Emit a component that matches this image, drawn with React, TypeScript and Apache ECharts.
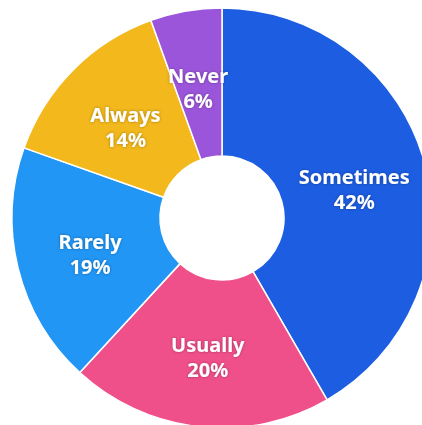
import React, { useEffect, useRef } from "react";
import * as echarts from "echarts";

const categories = ["Sometimes", "Usually", "Rarely", "Always", "Never"];
// shares; labels show them rounded
const values = [41.7, 20.2, 18.6, 14.1, 5.5];
const colors = ["#1C5DE2", "#F0508A", "#2196F5", "#F2B81C", "#9B55DB"];
const labelDx = [-2, 1, 3, 2, 0];
const labelDy = [7, 1, 3, 7, 7];

export default function App() {
  const ref = useRef<HTMLDivElement>(null);
  useEffect(() => {
    const chart = echarts.init(ref.current!, null, { renderer: "svg" });
    chart.setOption({
      animation: false,
      backgroundColor: "#ffffff",
      series: [
        {
          type: "pie",
          center: [222, 218],
          radius: [62, 210],
          startAngle: 90,
          clockwise: true,
          data: categories.map((c, i) => ({
            name: c,
            value: values[i],
            itemStyle: { color: colors[i] },
          })),
          itemStyle: { borderColor: "#ffffff", borderWidth: 1.5 },
          label: {
            show: true,
            position: "inside",
            formatter: (p: any) => `${p.name}\n${Math.round(p.value)}%`,
            color: "#ffffff",
            fontFamily: "Noto Sans",
            fontWeight: "bold",
            fontSize: 20,
            lineHeight: 25,
            textShadowColor: "rgba(0,0,0,0.35)",
            textShadowBlur: 3,
          },
          labelLayout: (p: any) => ({
            dx: labelDx[p.dataIndex],
            dy: labelDy[p.dataIndex],
          }),
          labelLine: { show: false },
          emphasis: { disabled: true },
        },
      ],
    });
    return () => chart.dispose();
  }, []);
  return (
    <div
      ref={ref}
      style={{ position: "fixed", left: 0, top: 0, width: 422, height: 425 }}
    />
  );
}
